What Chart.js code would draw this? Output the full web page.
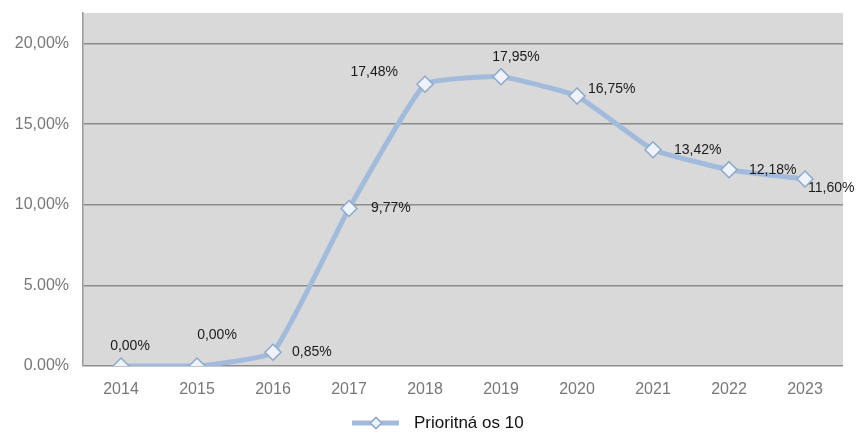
<!DOCTYPE html>
<html>
<head>
<meta charset="utf-8">
<script src="https://cdn.jsdelivr.net/npm/chart.js@4.4.1/dist/chart.umd.min.js"></script>
<style>
  html, body { margin: 0; padding: 0; background: #fff; }
  #wrap { width: 861px; height: 434px; }
</style>
</head>
<body>
<div id="wrap"><canvas id="lineChart"></canvas></div>
<script>
// Datos
const years = ['2014', '2015', '2016', '2017', '2018', '2019', '2020', '2021', '2022', '2023'];
const values = [0, 0, 0.85, 9.77, 17.48, 17.95, 16.75, 13.42, 12.18, 11.60];
const valueLabels = ['0,00%', '0,00%', '0,85%', '9,77%', '17,48%', '17,95%', '16,75%', '13,42%', '12,18%', '11,60%'];
const yTickValues = [0, 5, 10, 15, 20];
const yTickLabels = ['0.00%', '5.00%', '10,00%', '15,00%', '20,00%'];
const seriesName = 'Prioritná os 10';

// posición de cada etiqueta respecto al punto (dx, dy, alineación)
const labelPlacement = [
    [9, -20, 'center'], [20, -31, 'center'], [19, 0, 'left'], [22, 0, 'left'],
    [-27, -12, 'right'], [15, -20, 'center'], [11, -7, 'left'], [21, 0, 'left'],
    [20, 0, 'left'], [3, 9, 'left']
];

const lineColor = '#a2badb';

// fondo gris del área del gráfico
const plotBg = {
    id: 'plotBg',
    beforeDraw(chart) {
        const { ctx, chartArea: a } = chart;
        ctx.save();
        ctx.fillStyle = '#d9d9d9';
        ctx.fillRect(a.left, a.top, a.right - a.left, a.bottom - a.top);
        ctx.restore();
    }
};

// etiquetas de valores
const valueText = {
    id: 'valueText',
    afterDatasetsDraw(chart) {
        const { ctx } = chart;
        const meta = chart.getDatasetMeta(0);
        ctx.save();
        ctx.font = '14px "Liberation Sans", Arial, sans-serif';
        ctx.fillStyle = '#1a1a1a';
        ctx.textBaseline = 'middle';
        meta.data.forEach((pt, i) => {
            const p = labelPlacement[i];
            ctx.textAlign = p[2];
            ctx.fillText(valueLabels[i], pt.x + p[0], pt.y + p[1]);
        });
        ctx.restore();
    }
};

// leyenda inferior (línea con rombo)
const bottomLegend = {
    id: 'bottomLegend',
    afterDraw(chart) {
        const { ctx } = chart;
        const y = 423;
        ctx.save();
        ctx.strokeStyle = lineColor;
        ctx.lineWidth = 5;
        ctx.beginPath();
        ctx.moveTo(352, y);
        ctx.lineTo(399, y);
        ctx.stroke();
        ctx.translate(376, y);
        ctx.rotate(Math.PI / 4);
        ctx.fillStyle = '#eef3fa';
        ctx.strokeStyle = '#8ea8cc';
        ctx.lineWidth = 1.5;
        ctx.fillRect(-4, -4, 8, 8);
        ctx.strokeRect(-4, -4, 8, 8);
        ctx.restore();
        ctx.save();
        ctx.font = '17px "Liberation Sans", Arial, sans-serif';
        ctx.fillStyle = '#111';
        ctx.textBaseline = 'middle';
        ctx.textAlign = 'left';
        ctx.fillText(seriesName, 414, y);
        ctx.restore();
    }
};

new Chart(document.getElementById('lineChart').getContext('2d'), {
    type: 'line',
    data: {
        labels: years,
        datasets: [{
            label: seriesName,
            data: values,
            borderColor: lineColor,
            backgroundColor: '#eef3fa',
            borderWidth: 5,
            tension: 0.12,
            fill: false,
            pointStyle: 'rectRot',
            pointRadius: 8,
            pointBackgroundColor: '#eef3fa',
            pointBorderColor: '#8ea8cc',
            pointBorderWidth: 1.5
        }]
    },
    options: {
        responsive: true,
        maintainAspectRatio: false,
        animation: false,
        layout: { padding: { top: 13, right: 18, bottom: 38, left: 0 } },
        plugins: {
            legend: { display: false },
            tooltip: { enabled: false }
        },
        scales: {
            x: {
                offset: true,
                grid: { display: false },
                border: { display: false },
                ticks: {
                    color: '#777',
                    font: { family: '"Liberation Sans", Arial, sans-serif', size: 16 },
                    padding: 6,
                    maxRotation: 0
                },
                afterFit(s) { s.height = 30; }
            },
            y: {
                min: 0,
                max: 21.9,
                grid: { color: '#8c8c8c', lineWidth: 1.5, drawTicks: false },
                border: { display: true, color: '#999', width: 1.5 },
                afterBuildTicks(s) { s.ticks = yTickValues.map(v => ({ value: v })); },
                ticks: {
                    color: '#777',
                    font: { family: '"Liberation Sans", Arial, sans-serif', size: 16 },
                    padding: 14,
                    callback: v => yTickLabels[yTickValues.indexOf(v)]
                },
                afterFit(s) { s.width = 83; s.paddingTop = 0; s.paddingBottom = 0; }
            }
        }
    },
    plugins: [plotBg, valueText, bottomLegend]
});
</script>
</body>
</html>
